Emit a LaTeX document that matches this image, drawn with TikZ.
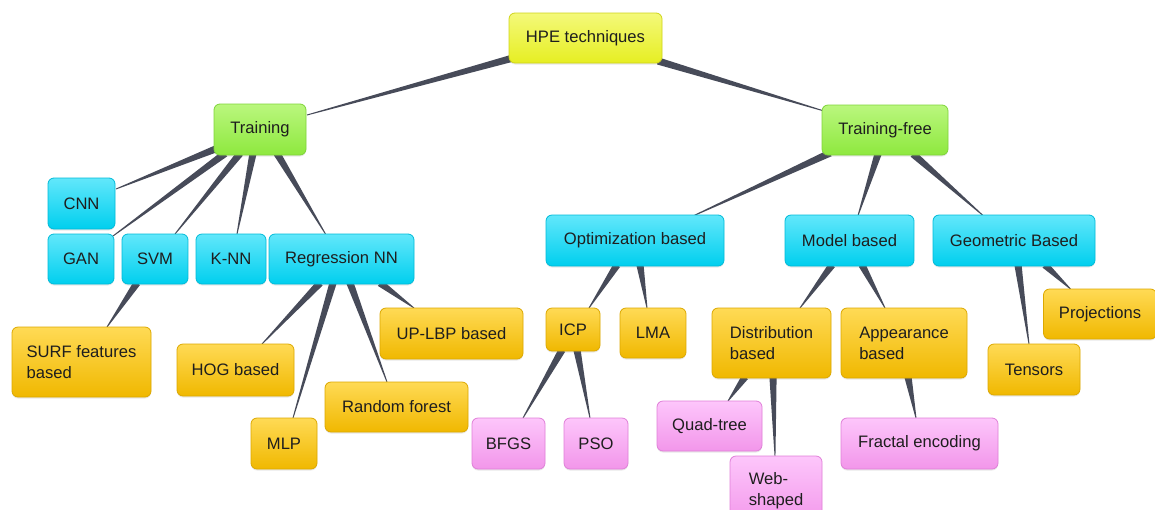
\documentclass[tikz,border=0pt]{standalone}
\usepackage{fontspec}
\setmainfont{Liberation Sans}
\usetikzlibrary{calc,shadows}
\pgfdeclarelayer{bg}
\pgfsetlayers{bg,main}
\definecolor{textc}{HTML}{1E1E1E}
\definecolor{connc}{HTML}{474B59}
\definecolor{yT}{HTML}{F4F97A}\definecolor{yB}{HTML}{E6EE22}\definecolor{yD}{HTML}{CFD41A}
\definecolor{gT}{HTML}{BAF77E}\definecolor{gB}{HTML}{8EE83E}\definecolor{gD}{HTML}{7FD43A}
\definecolor{cT}{HTML}{62E7FB}\definecolor{cB}{HTML}{00CFEE}\definecolor{cD}{HTML}{00BBD8}
\definecolor{oT}{HTML}{FFDA55}\definecolor{oB}{HTML}{F0B800}\definecolor{oD}{HTML}{DCA800}
\definecolor{pT}{HTML}{FDC6FB}\definecolor{pB}{HTML}{F296EA}\definecolor{pD}{HTML}{E07FD8}
\newcommand\conn[5][3.6pt]{%
  \path ([shift={(#3)}]#2.center) coordinate (cA) ([shift={(#5)}]#4.center) coordinate (cB);
  \fill[connc] ($(cA)!#1!90:(cB)$) -- ($(cB)!0.45pt!-90:(cA)$) -- ($(cB)!0.45pt!90:(cA)$) -- ($(cA)!#1!-90:(cB)$) -- cycle;}
\tikzset{
  box/.style={rounded corners=6pt, line width=0.8pt, text=textc, font=\fontsize{16.6}{21}\selectfont,
    inner sep=0pt, align=left, drop shadow={opacity=0.18, shadow xshift=0pt, shadow yshift=-1.5pt}},
  ybox/.style={box, draw=yD, top color=yT, bottom color=yB},
  gbox/.style={box, draw=gD, top color=gT, bottom color=gB},
  cbox/.style={box, draw=cD, top color=cT, bottom color=cB},
  obox/.style={box, draw=oD, top color=oT, bottom color=oB},
  pbox/.style={box, draw=pD, top color=pT, bottom color=pB},
}
\begin{document}
\begin{tikzpicture}[x=1pt,y=-1pt]
\useasboundingbox (0,0) rectangle (1155,509);
\clip (0,0) rectangle (1155,509);
% nodes
\node[ybox, minimum width=153pt, minimum height=50pt] (hpe) at (585.5,38) {HPE techniques};
\node[gbox, minimum width=92pt, minimum height=51pt] (training) at (260,129.5) {Training};
\node[gbox, minimum width=126pt, minimum height=50pt] (tfree) at (885,130) {Training-free};
\node[cbox, minimum width=67pt, minimum height=51pt] (cnn) at (81.5,203.5) {CNN};
\node[cbox, minimum width=66pt, minimum height=50pt] (gan) at (81,259) {GAN};
\node[cbox, minimum width=66pt, minimum height=50pt] (svm) at (155,259) {SVM};
\node[cbox, minimum width=70pt, minimum height=50pt] (knn) at (231,259) {K-NN};
\node[cbox, minimum width=145pt, minimum height=50pt] (regnn) at (341.5,259) {Regression NN};
\node[obox, minimum width=139pt, minimum height=70pt] (surf) at (81.5,362) {SURF features\\based};
\node[obox, minimum width=117pt, minimum height=52pt] (hog) at (235.5,370) {HOG based};
\node[obox, minimum width=66pt, minimum height=51pt] (mlp) at (284,443.5) {MLP};
\node[obox, minimum width=143pt, minimum height=50pt] (rf) at (396.5,407) {Random forest};
\node[obox, minimum width=143pt, minimum height=51pt] (uplbp) at (451.5,333.5) {UP-LBP based};
\node[cbox, minimum width=178pt, minimum height=51pt] (opt) at (635,240.5) {Optimization based};
\node[cbox, minimum width=129pt, minimum height=51pt] (model) at (849.5,240.5) {Model based};
\node[cbox, minimum width=162pt, minimum height=51pt] (geo) at (1014,240.5) {Geometric Based};
\node[obox, minimum width=54pt, minimum height=43pt] (icp) at (573,329.5) {ICP};
\node[obox, minimum width=66pt, minimum height=50pt] (lma) at (653,333) {LMA};
\node[obox, minimum width=119pt, minimum height=70pt] (dist) at (771.5,343) {Distribution\\based};
\node[obox, minimum width=126pt, minimum height=70pt] (app) at (904,343) {Appearance\\based};
\node[obox, minimum width=113pt, minimum height=50pt] (proj) at (1100,314) {Projections};
\node[obox, minimum width=92pt, minimum height=51pt] (tens) at (1034,369.5) {Tensors};
\node[pbox, minimum width=73pt, minimum height=51pt] (bfgs) at (508.5,443.5) {BFGS};
\node[pbox, minimum width=64pt, minimum height=51pt] (pso) at (596,443.5) {PSO};
\node[pbox, minimum width=105pt, minimum height=50pt] (quad) at (709.5,426) {Quad-tree};
\node[pbox, minimum width=92pt, minimum height=70pt] (web) at (776,491) {Web-\\shaped};
\node[pbox, minimum width=157pt, minimum height=51pt] (frac) at (919.5,443.5) {Fractal encoding};
% connectors
\begin{pgfonlayer}{bg}
\conn{hpe}{-72.5,20}{training}{47,-14.5}
\conn{hpe}{72.5,23}{tfree}{-61,-19}
\conn{training}{-42,18.5}{cnn}{34.5,-14.5}
\conn{training}{-35,24}{gan}{32,-23}
\conn{training}{-20,24}{svm}{20,-25}
\conn{training}{-7,24}{knn}{6,-25}
\conn{training}{17,24}{regnn}{-16,-25}
\conn{svm}{-18,24}{surf}{25.5,-35}
\conn{regnn}{-21.5,24}{hog}{26.5,-26}
\conn{regnn}{-8.5,24}{mlp}{9,-25.5}
\conn{regnn}{8.5,24}{rf}{-9.5,-25}
\conn{regnn}{38.5,24}{uplbp}{-37.5,-25.5}
\conn{tfree}{-55,23}{opt}{58,-24.5}
\conn{tfree}{-7,24}{model}{8.5,-25}
\conn{tfree}{28,24}{geo}{-31,-25}
\conn{opt}{-18,24.5}{icp}{16,-21.5}
\conn{opt}{5,24.5}{lma}{-6,-25}
\conn{model}{-17.5,24.5}{dist}{28.5,-35}
\conn{model}{12.5,24.5}{app}{-19,-35}
\conn{geo}{4,24.5}{tens}{-5,-25.5}
\conn{geo}{31,24.5}{proj}{-29.5,-25}
\conn{icp}{-11,20.5}{bfgs}{14.5,-25.5}
\conn{icp}{4,20.5}{pso}{-6,-25.5}
\conn{dist}{-26.5,34}{quad}{18.5,-25}
\conn{dist}{1.5,34}{web}{-1,-35}
\conn{app}{4,34}{frac}{-3.5,-25.5}
\end{pgfonlayer}
\end{tikzpicture}
\end{document}
